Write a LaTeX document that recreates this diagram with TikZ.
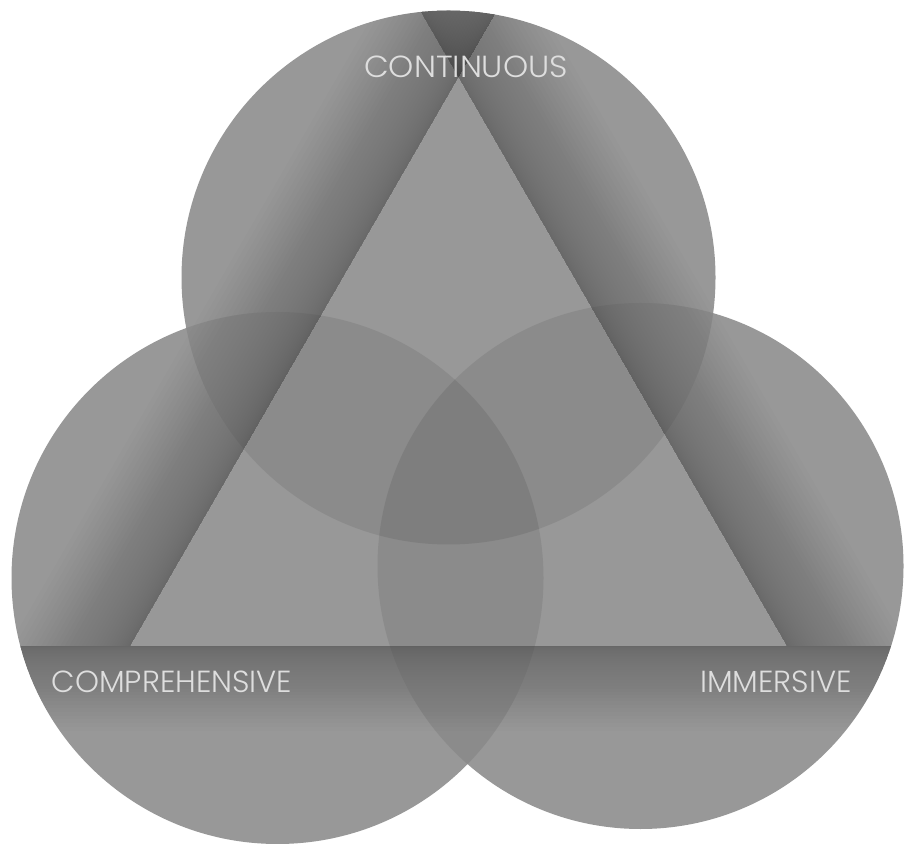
\documentclass[tikz,border=0pt]{standalone}
\usepackage{fontspec}
\newfontfamily\lbl{Poppins Light}
\usetikzlibrary{calc}
\definecolor{greyone}{RGB}{152,152,152}
\definecolor{greytwo}{RGB}{139,139,139}
\definecolor{greythree}{RGB}{126,126,126}
\definecolor{labelc}{RGB}{222,222,222}
\tikzset{
  lbltext/.style={text=labelc, font=\lbl\fontsize{30.5}{30.5}\selectfont, inner sep=0pt, anchor=base},
}
\newcommand{\CT}{(448.5,565.5) circle (267)}
\newcommand{\CL}{(277.5,265) circle (266)}
\newcommand{\CR}{(640.5,277) circle (263)}
% shadow strips: #1 start point, #2 angle, #3 width, #4 per-layer opacity,
% #5 extension before start, #6 end coordinate along the edge
\newcommand{\edgeshadow}[6]{%
  \begin{scope}[shift={#1}, rotate=#2]
    \foreach \i in {1,...,36}{
      \pgfmathsetmacro{\dd}{#3*(\i/36)^1.7}
      \fill[black, opacity=#4] (-#5,0) -- (#6,0) -- (#6,-\dd) -- (-#5,-\dd) -- cycle;
    }
  \end{scope}}
\begin{document}
\begin{tikzpicture}[x=1pt,y=1pt]
\useasboundingbox (0,0) rectangle (904,843);
\fill[white] (0,0) rectangle (904,843);
\coordinate (A) at (458.5,766);
\coordinate (B) at (130,197);
\coordinate (C) at (787,197);
% base circles
\fill[greyone] \CT;
\fill[greyone] \CL;
\fill[greyone] \CR;
% pairwise overlaps
\begin{scope}\clip \CT; \fill[greytwo] \CL; \end{scope}
\begin{scope}\clip \CT; \fill[greytwo] \CR; \end{scope}
\begin{scope}\clip \CL; \fill[greytwo] \CR; \end{scope}
% triple overlap
\begin{scope}\clip \CT; \clip \CL; \fill[greythree] \CR; \end{scope}
% shadows of the triangle edges, clipped to the union of circles
\begin{scope}
  \clip (448.5,565.5) circle (267) (277.5,265) circle (266) (640.5,277) circle (263);
  \edgeshadow{(B)}{0}{85}{0.0075}{300}{957}
  \begin{scope}
    \clip (0,197) rectangle (904,843);
    \edgeshadow{(C)}{120}{105}{0.0075}{60}{957}
    \edgeshadow{(A)}{240}{105}{0.0075}{300}{717}
  \end{scope}
\end{scope}
% labels
\node[lbltext, xscale=1.05] (cont) at (466,765) {CONTINUOUS};
\node[lbltext] (comp) at (172,150) {COMPREHENSIVE};
\node[lbltext] (imm) at (776,150) {IMMERSIVE};
\end{tikzpicture}
\end{document}
